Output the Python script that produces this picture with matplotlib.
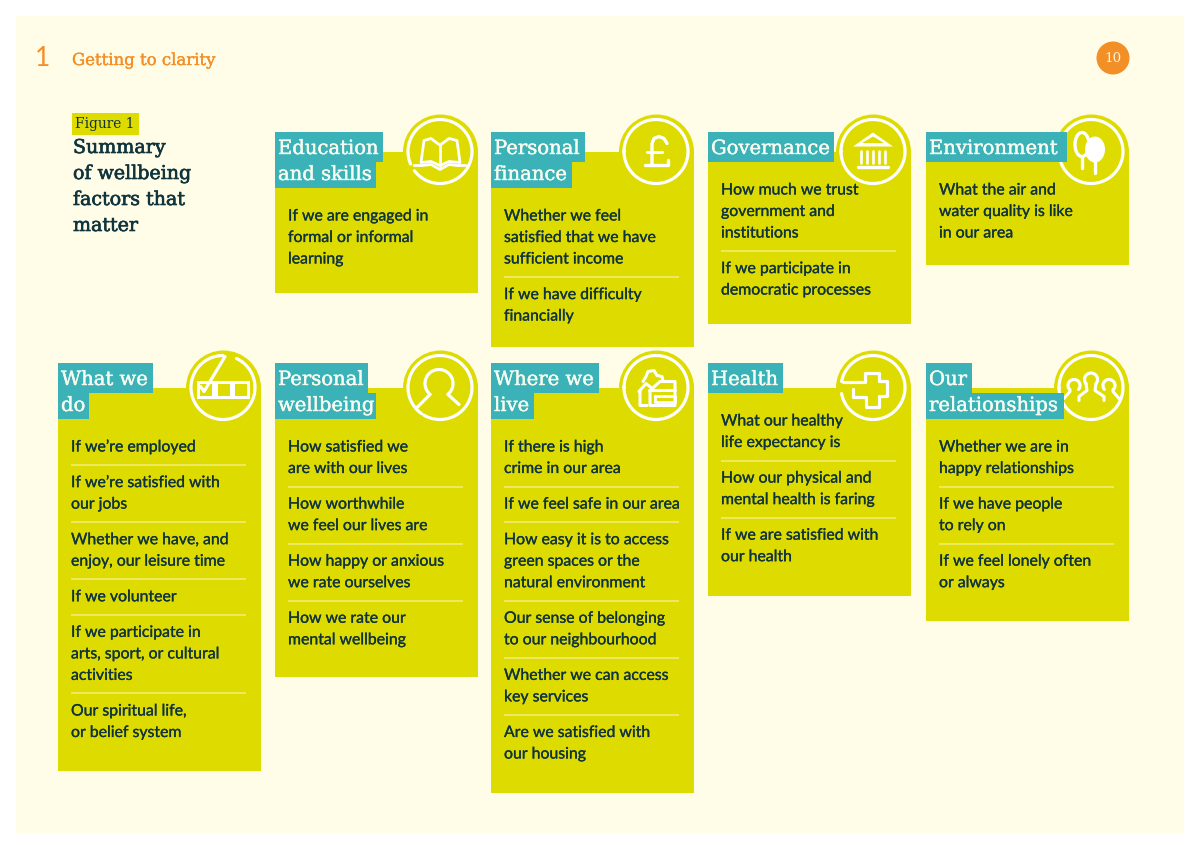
import numpy as np
import matplotlib
matplotlib.use("Agg")
import matplotlib.pyplot as plt
import matplotlib.patheffects as pe
from matplotlib.patches import Rectangle, Circle

# ---- content ----
section_number = "1"
section_title = "Getting to clarity"
page_number = "10"
figure_label = "Figure 1"
figure_title = ["Summary", "of wellbeing", "factors that", "matter"]

titles_row1 = [["Education", "and skills"], ["Personal", "finance"], ["Governance"], ["Environment"]]
titles_row2 = [["What we", "do"], ["Personal", "wellbeing"], ["Where we", "live"], ["Health"], ["Our", "relationships"]]

items_row1 = [
    [["If we are engaged in", "formal or informal", "learning"]],
    [["Whether we feel", "satisfied that we have", "sufficient income"], ["If we have difficulty", "financially"]],
    [["How much we trust", "government and", "institutions"], ["If we participate in", "democratic processes"]],
    [["What the air and", "water quality is like", "in our area"]],
]
items_row2 = [
    [["If we\u2019re employed"], ["If we\u2019re satisfied with", "our jobs"], ["Whether we have, and", "enjoy, our leisure time"],
     ["If we volunteer"], ["If we participate in", "arts, sport, or cultural", "activities"], ["Our spiritual life,", "or belief system"]],
    [["How satisfied we", "are with our lives"], ["How worthwhile", "we feel our lives are"], ["How happy or anxious", "we rate ourselves"],
     ["How we rate our", "mental wellbeing"]],
    [["If there is high", "crime in our area"], ["If we feel safe in our area"], ["How easy it is to access", "green spaces or the", "natural environment"],
     ["Our sense of belonging", "to our neighbourhood"], ["Whether we can access", "key services"], ["Are we satisfied with", "our housing"]],
    [["What our healthy", "life expectancy is"], ["How our physical and", "mental health is faring"], ["If we are satisfied with", "our health"]],
    [["Whether we are in", "happy relationships"], ["If we have people", "to rely on"], ["If we feel lonely often", "or always"]],
]

# ---- layout (pixels) ----
W, H = 1200, 849
CREAM, YELLOW, TEAL, ORANGE, INK = "#FFFDE8", "#DEDB00", "#3AB2B8", "#F38F27", "#10343C"
RULE = "#EFEC72"
SLAB = "DejaVu Serif"
BODY = "Lato"
BODY_SIZE = 11.4
TITLE_SIZE = 14.1
LINE = 21.5
R = 37.5
RING = 32

row1_left = [275, 491, 708, 926]
row2_left = [58, 275, 491, 708, 926]
row1_bottom = [293, 347, 324, 265]
row2_bottom = [771, 677, 793, 596, 621]
row1_tabs = [[108, 101], [94, 81], [126], [141]]
row2_tabs = [[95, 31], [93, 101], [108, 43], [75], [46, 138]]
CARD_W = 203

fig = plt.figure(figsize=(W / 100, H / 100), dpi=100, facecolor="white")
ax = fig.add_axes([0, 0, 1, 1])
ax.set_xlim(0, W)
ax.set_ylim(H, 0)
ax.axis("off")
ax.add_patch(Rectangle((16, 16), 1168, 817, fc=CREAM, ec="none", zorder=0))


def heavy(color, w=0.35):
    return [pe.withStroke(linewidth=w, foreground=color)]


def stroke(xs, ys, lw=2.3, z=4):
    ax.plot(xs, ys, color="white", lw=lw, solid_capstyle="round", solid_joinstyle="round", zorder=z)


def arc(cx, cy, r, a0, a1, lw=2.3):
    t = np.radians(np.linspace(a0, a1, 90))
    stroke(cx + r * np.cos(t), cy - r * np.sin(t), lw)


def poly(cx, cy, pts, lw=2.3):
    p = np.array(pts, float)
    stroke(cx + p[:, 0], cy + p[:, 1], lw)


def fill(cx, cy, pts, color="white", z=4):
    p = np.array(pts, float)
    ax.fill(cx + p[:, 0], cy + p[:, 1], color=color, zorder=z, lw=0)


def icon_book(cx, cy):
    arc(cx, cy, RING, -143, 203)
    poly(cx, cy, [(-1, -7), (-9, -13), (-16, -11), (-19, 11), (-9, 10), (0, 14), (9, 10), (20, 11), (17, -11), (9, -13), (1, -7)], 2.0)
    poly(cx, cy, [(0, -7), (0, 14)], 2.0)
    poly(cx, cy, [(-26, 14), (-18, 14), (-9, 13), (0, 18), (9, 13), (17, 14), (26, 14)], 2.0)


def icon_pound(cx, cy):
    arc(cx, cy, RING, -180, 180)
    poly(cx, cy, [(11, -8), (8, -13), (3, -15), (-2, -13), (-4, -8), (-4, 13)], 2.4)
    poly(cx, cy, [(-11, 13), (12, 13), (12, 8)], 2.4)
    poly(cx, cy, [(-9, 0), (6, 0)], 2.2)


def icon_temple(cx, cy):
    arc(cx, cy, RING, -180, 180)
    fill(cx, cy, [(-20, -5), (0, -19), (20, -5)])
    fill(cx, cy, [(-11, -8.5), (0, -15), (11, -8.5)], YELLOW, 5)
    for dx in (-12, -6, 0, 6, 12):
        poly(cx, cy, [(dx, -1), (dx, 11)], 1.9)
    poly(cx, cy, [(-15, 15), (15, 15)], 2.4)


def icon_trees(cx, cy):
    arc(cx, cy, RING, -180, 180)
    t = np.radians(np.linspace(0, 360, 60))
    stroke(cx - 9 + 7 * np.cos(t), cy - 7 + 12 * np.sin(t), 2.4)
    poly(cx, cy, [(-9, 5), (-9, 16)], 2.4)
    poly(cx, cy, [(4, 8), (4, 21)], 2.4)
    ax.fill(cx + 4 + 10 * np.cos(t), cy - 2 + 13 * np.sin(t), color="white", zorder=4, lw=0)


def icon_checks(cx, cy):
    arc(cx, cy, RING, 90, 425)
    for dx in (-25, -7, 10):
        ax.add_patch(Rectangle((cx + dx, cy - 6), 15, 15, fc="none", ec="white", lw=2.2, zorder=4))
    poly(cx, cy, [(-22.5, -1), (-19, 4), (2, -31)], 2.3)


def icon_person(cx, cy):
    arc(cx, cy, RING, -120, 235)
    arc(cx - 1, cy - 4, 14, -50, 230)
    poly(cx, cy, [(-10, 7), (-23, 20)], 2.3)
    poly(cx, cy, [(8, 7), (19, 17)], 2.3)


def icon_house(cx, cy):
    arc(cx, cy, RING, -180, 180)
    poly(cx, cy, [(-6, 3), (4, -6), (19, -6), (19, 18), (-6, 18), (-6, 3), (19, 3)], 2.2)
    poly(cx, cy, [(-1, 8), (19, 8), (19, 14), (-1, 14), (-1, 8)], 2.0)
    poly(cx, cy, [(-9, 18), (-16, 18), (-16, 4), (-17, 4), (-10, -4), (-5, 0)], 2.2)
    poly(cx, cy, [(-13, -6), (-10, -11), (-8, -16), (-2, -17), (1, -12), (6, -11), (7, -7)], 2.2)


def icon_cross(cx, cy):
    arc(cx, cy, RING, -169, 169)
    poly(cx, cy, [(-30, -6), (-8, -6), (-8, -15), (6, -15), (6, -7), (14, -7), (14, 8), (6, 8), (6, 19),
                  (-7, 19), (-7, 9), (-20, 9), (-20, 1)], 2.3)


def icon_people(cx, cy):
    arc(cx, cy, RING, -180, 180)
    arc(cx, cy - 8, 6.5, -40, 220)
    poly(cx, cy, [(-5, -4), (-4, 3), (-12, 9), (-12, 13)], 2.2)
    poly(cx, cy, [(5, -4), (4, 3), (13, 9), (13, 13)], 2.2)
    arc(cx - 17, cy - 2, 6, -40, 220)
    poly(cx, cy, [(-21, 2), (-21, 4), (-27, 11)], 2.2)
    arc(cx + 18, cy - 2, 6, -40, 220)
    poly(cx, cy, [(22, 2), (22, 4), (28, 11)], 2.2)


def card(left, top, bottom, tab_top, title, tabs, items, first_y, icon):
    right = left + CARD_W
    cx, cy = right - R, top
    ax.add_patch(Rectangle((left, top), right - left, bottom - top, fc=YELLOW, ec="none", zorder=1))
    ax.add_patch(Circle((cx, cy), R, fc=YELLOW, ec="none", zorder=1))
    icon(cx - 0.5, cy - 0.5)
    for i, (t, w) in enumerate(zip(title, tabs)):
        y0 = tab_top if i == 0 else tab_top + 30
        h = 30 if i == 0 else 26
        ax.add_patch(Rectangle((left - 0.5, y0), w, h, fc=TEAL, ec="none", zorder=5))
        ax.text(left + 3, tab_top + 22 + 26 * i, t, color="#F6FBEF", family=SLAB, fontsize=TITLE_SIZE,
                va="baseline", ha="left", zorder=6, path_effects=heavy("#F6FBEF", 0.3))
    y = first_y
    for k, item in enumerate(items):
        for j, line in enumerate(item):
            ax.text(left + 13, y + 4.5, line, color=INK, family=BODY, fontsize=BODY_SIZE,
                    va="baseline", ha="left", zorder=6, path_effects=heavy(INK, 0.2))
            if j < len(item) - 1:
                y += LINE
        if k < len(items) - 1:
            ax.plot([left + 13, right - 15], [y + 18, y + 18], color=RULE, lw=1.2, zorder=3,
                    solid_capstyle="butt")
            y += 35.6


icons1 = [icon_book, icon_pound, icon_temple, icon_trees]
icons2 = [icon_checks, icon_person, icon_house, icon_cross, icon_people]
for i in range(4):
    card(row1_left[i], 152, row1_bottom[i], 132, titles_row1[i], row1_tabs[i], items_row1[i],
         190 + 26 * (len(titles_row1[i]) - 1), icons1[i])
for i in range(5):
    card(row2_left[i], 388, row2_bottom[i], 363, titles_row2[i], row2_tabs[i], items_row2[i],
         421 + 26 * (len(titles_row2[i]) - 1), icons2[i])

# header
ax.text(35, 66, section_number, color=ORANGE, family="Lato", fontsize=19, va="baseline")
ax.text(72, 65, section_title, color=ORANGE, family=SLAB, fontsize=11.9, va="baseline",
        path_effects=heavy(ORANGE, 0.25))
ax.add_patch(Circle((1113, 58), 16.5, fc=ORANGE, ec="none"))
ax.text(1113, 58.5, page_number, color="#FBF3D8", family=SLAB, fontsize=9.6, ha="center", va="center")

# figure heading
ax.add_patch(Rectangle((72, 113), 67, 22, fc=YELLOW, ec="none"))
ax.text(75, 128, figure_label, color=INK, family=SLAB, fontsize=9.9, va="baseline")
for i, t in enumerate(figure_title):
    ax.text(73, 153 + 26 * i, t, color=INK, family=SLAB, fontsize=13.7, va="baseline",
            path_effects=heavy(INK, 0.45))

fig.savefig("out.png", dpi=100, facecolor="white")
